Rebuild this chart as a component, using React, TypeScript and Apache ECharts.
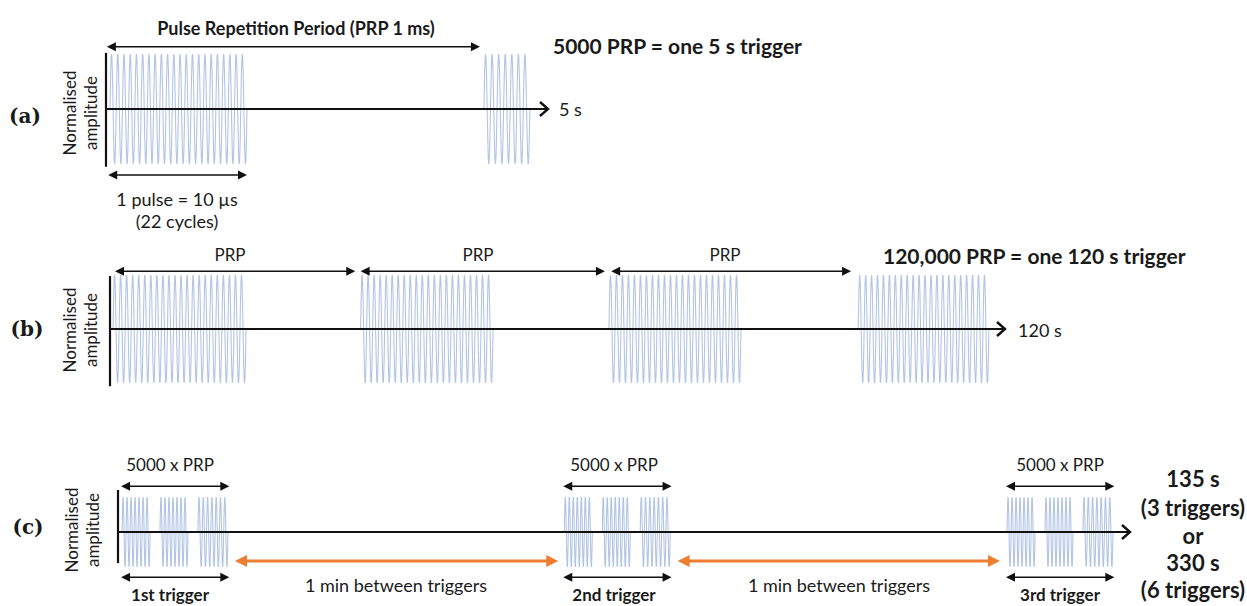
import React, { useEffect, useRef } from "react";
import * as echarts from "echarts";

// ---- Data (diagram time units along each axis, amplitude normalised to ±1) ----
// Panel (a): one 5 s trigger
const aBursts = [[0.9, 31.9, 22], [85.5, 95.9, 7]]; // [start, end, cycles]
const aSpans = [[0.2, 84.6, 1.13], [0.5, 31.9, -1.2]]; // [from, to, level]
const aAxis = [[100, 1.02, -1.05]]; // [axis end, vertical top, vertical bottom]

// Panel (b): one 120 s trigger
const bBursts = [[0.34, 15.2, 22], [28.0, 42.8, 22], [55.75, 70.5, 22], [83.6, 98.2, 22]];
const bSpans = [[0.56, 27.4, 1.07], [28.0, 55.3, 1.07], [56.0, 82.8, 1.07]];
const bAxis = [[100, 0.98, -1.06]];

// Panel (c): triggers separated by 1 min
const cTriggerStarts = [0.4, 44.1, 87.85];
const cPulseOffsets = [[0, 2.77, 7], [3.75, 6.52, 7], [7.5, 10.47, 7]];
const cTriggerSpan = [-0.1, 10.6];
const cTopLevel = 1.31;
const cBottomLevel = -1.29;
const cGaps = [[11.56, 43.5, -0.83], [55.3, 87.15, -0.83]];
const cAxis = [[100, 1.2, -0.89]];

// Labels
const prpLabels = ["PRP", "PRP", "PRP"];
const triggerLabels = ["1st trigger", "2nd trigger", "3rd trigger"];
const gapLabels = ["1 min between triggers", "1 min between triggers"];
const totalLabels = ["135 s", "(3 triggers)", "or", "330 s", "(6 triggers)"];

const cBursts: number[][] = [];
cTriggerStarts.forEach((s) => cPulseOffsets.forEach((p) => cBursts.push([s + p[0], s + p[1], p[2]])));
const cTopSpans = cTriggerStarts.map((s) => [s + cTriggerSpan[0], s + cTriggerSpan[1], cTopLevel]);
const cBottomSpans = cTriggerStarts.map((s) => [s + cTriggerSpan[0], s + cTriggerSpan[1], cBottomLevel]);

const BLUE = "#B3C5E4";
const ORANGE = "#ED7D31";
const INK = "#111111";
const FONT = 'Lato, "Open Sans", sans-serif';
const SERIF = '"DejaVu Serif", "Liberation Serif", serif';

function burstItem(params: any, api: any) {
  const s = api.value(0), e = api.value(1), c = api.value(2);
  const n = Math.round(c * 24);
  const pts: number[][] = [];
  for (let i = 0; i <= n; i++) {
    const t = i / n;
    pts.push(api.coord([s + (e - s) * t, Math.sin(2 * Math.PI * c * t)]));
  }
  return {
    type: "polyline",
    shape: { points: pts },
    style: { stroke: BLUE, lineWidth: 1.1, fill: null },
  };
}

function makeSpanItem(color: string, lw: number, hl: number, hw: number) {
  return (params: any, api: any) => {
    const p1 = api.coord([api.value(0), api.value(2)]);
    const p2 = api.coord([api.value(1), api.value(2)]);
    const y = p1[1];
    return {
      type: "group",
      children: [
        { type: "line", shape: { x1: p1[0] + hl - 1, y1: y, x2: p2[0] - hl + 1, y2: y }, style: { stroke: color, lineWidth: lw } },
        { type: "polygon", shape: { points: [[p1[0], y], [p1[0] + hl, y - hw], [p1[0] + hl, y + hw]] }, style: { fill: color } },
        { type: "polygon", shape: { points: [[p2[0], y], [p2[0] - hl, y - hw], [p2[0] - hl, y + hw]] }, style: { fill: color } },
      ],
    };
  };
}

function axisItem(params: any, api: any) {
  const o = api.coord([0, 0]);
  const tip = api.coord([api.value(0), 0]);
  const vt = api.coord([0, api.value(1)]);
  const vb = api.coord([0, api.value(2)]);
  return {
    type: "group",
    children: [
      { type: "line", shape: { x1: vt[0], y1: vt[1], x2: vb[0], y2: vb[1] }, style: { stroke: INK, lineWidth: 2.2 } },
      { type: "line", shape: { x1: o[0], y1: o[1], x2: tip[0] - 1, y2: tip[1] }, style: { stroke: INK, lineWidth: 2.2 } },
      {
        type: "polyline",
        shape: { points: [[tip[0] - 8, tip[1] - 7], [tip[0], tip[1]], [tip[0] - 8, tip[1] + 7]] },
        style: { stroke: INK, lineWidth: 2.4, fill: null },
      },
    ],
  };
}

function txt(text: string, x: number, y: number, size: number, bold = false, align = "center", extra: any = {}) {
  return {
    type: "text",
    x,
    y,
    silent: true,
    ...extra,
    style: {
      text,
      fontSize: size,
      fontWeight: bold ? "bold" : "normal",
      fontFamily: extra.family || FONT,
      fill: "#1a1a1a",
      align,
      verticalAlign: "middle",
      textAlign: align,
      textVerticalAlign: "middle",
      lineHeight: extra.lh || size * 1.3,
    },
  };
}

export default function App() {
  const ref = useRef<HTMLDivElement>(null);
  useEffect(() => {
    if (!ref.current) return;
    const chart = echarts.init(ref.current, undefined, { renderer: "svg" });
    const grids = [
      { left: 106, top: 54, width: 442, height: 110 },
      { left: 110, top: 275, width: 895, height: 108 },
      { left: 118, top: 497, width: 1012, height: 70 },
    ];
    const xAxes = grids.map((_, i) => ({ type: "value", gridIndex: i, min: 0, max: 100, show: false }));
    const yAxes = grids.map((_, i) => ({ type: "value", gridIndex: i, min: -1, max: 1, show: false }));
    const series: any[] = [];
    const add = (i: number, data: any[], renderItem: any, z = 2) =>
      series.push({ type: "custom", xAxisIndex: i, yAxisIndex: i, data, renderItem, clip: false, silent: true, z });
    const blackSpan = makeSpanItem(INK, 1.5, 9, 4.5);
    const orangeSpan = makeSpanItem(ORANGE, 3, 12, 6);

    add(0, aBursts, burstItem, 1);
    add(0, aAxis, axisItem, 3);
    add(0, aSpans, blackSpan, 3);
    add(1, bBursts, burstItem, 1);
    add(1, bAxis, axisItem, 3);
    add(1, bSpans, blackSpan, 3);
    add(2, cBursts, burstItem, 1);
    add(2, cAxis, axisItem, 3);
    add(2, cTopSpans, blackSpan, 3);
    add(2, cBottomSpans, blackSpan, 3);
    add(2, cGaps, orangeSpan, 3);

    const prpX = [230, 478, 725];
    const trigX = [170, 614, 1060];
    const gapX = [396, 839];
    const totalY = [478, 507, 535, 562, 589];
    const rot = { rotation: Math.PI / 2, lh: 21 };

    const graphic: any[] = [
      // Panel (a)
      txt("(a)", 25, 116, 20, true, "center", { family: SERIF }),
      txt("Normalised\namplitude", 80, 113, 17, false, "center", rot),
      txt("Pulse Repetition Period (PRP 1 ms)", 296, 28, 18, true),
      txt("5000 PRP = one 5 s trigger", 553, 45, 21, true, "left"),
      txt("5 s", 559, 109, 18, false, "left"),
      txt("1 pulse = 10 \u00b5s", 177, 199, 18),
      txt("(22 cycles)", 177, 221, 18),
      // Panel (b)
      txt("(b)", 27, 329, 20, true, "center", { family: SERIF }),
      txt("Normalised\namplitude", 80, 330, 17, false, "center", rot),
      ...prpLabels.map((t, i) => txt(t, prpX[i], 254, 17)),
      txt("120,000 PRP = one 120 s trigger", 883, 255, 21, true, "left"),
      txt("120 s", 1018, 330, 18, false, "left"),
      // Panel (c)
      txt("(c)", 28, 527, 20, true, "center", { family: SERIF }),
      txt("Normalised\namplitude", 82, 530, 17, false, "center", rot),
      ...trigX.map((x) => txt("5000 x PRP", x, 464, 17)),
      ...triggerLabels.map((t, i) => txt(t, trigX[i], 594, 17, true)),
      ...gapLabels.map((t, i) => txt(t, gapX[i], 585, 18)),
      ...totalLabels.map((t, i) => txt(t, 1193, totalY[i], 22, true)),
    ];

    chart.setOption({
      animation: false,
      grid: grids,
      xAxis: xAxes,
      yAxis: yAxes,
      series,
      graphic,
    });
    return () => chart.dispose();
  }, []);
  return (
    <div
      ref={ref}
      style={{ position: "absolute", left: 0, top: 0, width: 1247, height: 606, background: "#fff" }}
    />
  );
}
